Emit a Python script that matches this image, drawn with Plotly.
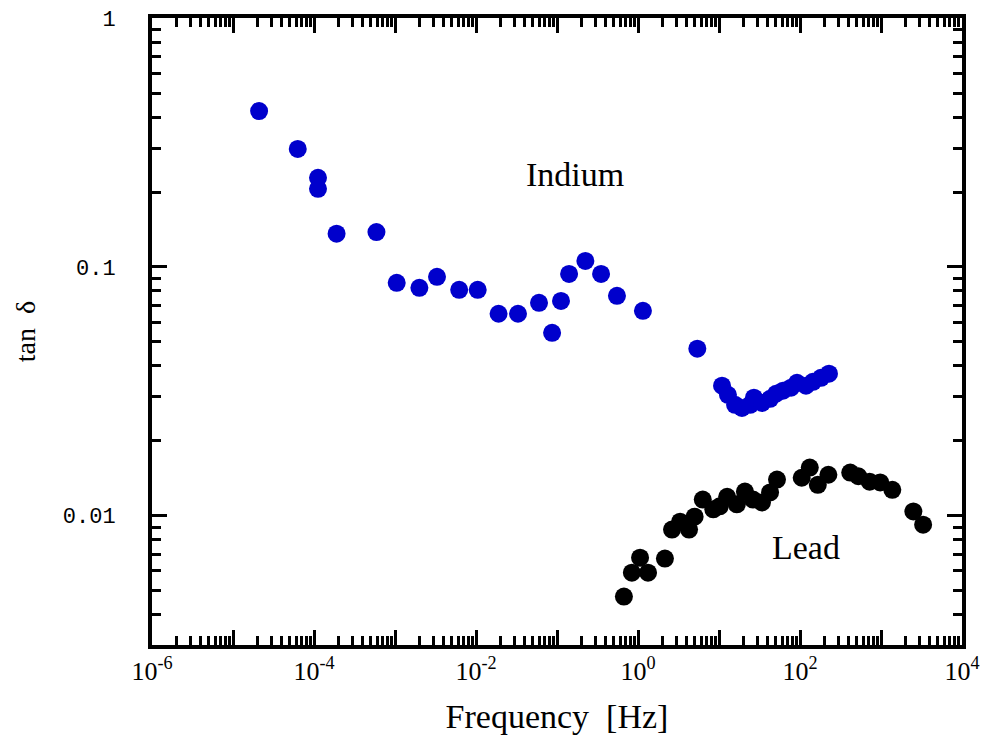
import plotly.graph_objects as go

# Indium data (frequency Hz, tan delta)
indium_freq = [2.1e-5, 6.3e-5, 1.12e-4, 1.12e-4, 1.9e-4, 5.9e-4, 1.05e-3, 2.0e-3, 3.3e-3,
               6.2e-3, 1.05e-2, 1.9e-2, 3.3e-2, 6.0e-2, 8.7e-2, 1.12e-1, 1.41e-1, 2.24e-1,
               3.5e-1, 5.5e-1, 1.15, 5.4,
               10.9, 12.9, 15.8, 19.2, 24.2, 27.0, 34.0, 42.7, 50.6, 61.7, 77.4, 91.8,
               118.6, 144.5, 181.6, 228.0]
indium_tan = [0.423, 0.298, 0.228, 0.206, 0.136, 0.138, 0.0863, 0.0824, 0.0912,
              0.0809, 0.0809, 0.0648, 0.0648, 0.0717, 0.0543, 0.073, 0.0937, 0.1057,
              0.0937, 0.0765, 0.0666, 0.0469,
              0.0333, 0.0306, 0.0279, 0.0271, 0.0279, 0.0298, 0.0284, 0.0295, 0.0309,
              0.0318, 0.0327, 0.0342, 0.0333, 0.0345, 0.0358, 0.0372]

# Lead data
lead_freq = [0.67, 0.84, 1.06, 1.33, 2.15, 2.63, 3.31, 4.27, 5.0, 6.3, 8.5, 10.2, 12.6,
             16.6, 20.9, 26.3, 33.9, 42.7, 52.0, 105, 132, 166, 224, 417, 525, 724, 977,
             1380, 2510, 3310]
lead_tan = [0.00473, 0.0059, 0.00678, 0.0059, 0.00672, 0.00879, 0.00946, 0.00879, 0.0099,
            0.0116, 0.0106, 0.0109, 0.0119, 0.0111, 0.0125, 0.0116, 0.0113, 0.0124, 0.01396,
            0.0142, 0.0156, 0.0133, 0.0146, 0.0149, 0.0144, 0.0137, 0.0136, 0.0127, 0.0104,
            0.0092]

x_major = [10.0 ** k for k in range(-6, 5)]
x_labels = ["10<sup>%d</sup>" % k if k % 2 == 0 else "" for k in range(-6, 5)]
y_major = [0.01, 0.1, 1]
y_labels = ["0.01", "0.1", "1"]

x_minor = [m * 10.0 ** k for k in range(-6, 4) for m in range(2, 10)]
y_minor = [m * 10.0 ** k for k in range(-3, 0) for m in range(2, 10)]

serif = "Liberation Serif"

fig = go.Figure()
fig.add_trace(go.Scatter(x=indium_freq, y=indium_tan, mode="markers", name="Indium",
                         marker=dict(color="#0000CC", size=18, line=dict(width=0))))
fig.add_trace(go.Scatter(x=lead_freq, y=lead_tan, mode="markers", name="Lead",
                         marker=dict(color="#000000", size=18, line=dict(width=0))))

fig.add_annotation(x=-0.78, y=-0.63, xref="x", yref="y", text="Indium", showarrow=False,
                   font=dict(family=serif, size=34, color="black"))
fig.add_annotation(x=2.07, y=-2.13, xref="x", yref="y", text="Lead", showarrow=False,
                   font=dict(family=serif, size=34, color="black"))

axis_common = dict(
    showline=True, linecolor="black", linewidth=4, mirror="ticks",
    ticks="inside", ticklen=15, tickwidth=3, tickcolor="black",
    showgrid=False, zeroline=False, automargin=False, ticklabeloverflow="allow",
)

fig.update_xaxes(type="log", range=[-6, 4], tickmode="array", tickvals=x_major,
                 ticktext=x_labels,
                 tickfont=dict(family=serif, size=26, color="black"),
                 title=dict(text="Frequency  [Hz]", font=dict(family=serif, size=34, color="black"),
                            standoff=20),
                 minor=dict(tickmode="array", tickvals=x_minor, ticks="inside", ticklen=9,
                            tickwidth=3, tickcolor="black", showgrid=False),
                 ticklabelstandoff=0,
                 **axis_common)
fig.update_yaxes(type="log", range=[-2.52, 0.0005], tickmode="array", tickvals=y_major,
                 ticktext=y_labels,
                 tickfont=dict(family="Liberation Mono", size=22, color="black"),
                 title=dict(text="tan  δ", font=dict(family=serif, size=28, color="black"),
                            standoff=20),
                 minor=dict(tickmode="array", tickvals=y_minor, ticks="inside", ticklen=9,
                            tickwidth=3, tickcolor="black", showgrid=False),
                 ticklabelstandoff=28,
                 **axis_common)

fig.update_layout(
    width=980, height=742,
    margin=dict(l=144, r=26, t=10, b=105),
    plot_bgcolor="white", paper_bgcolor="white",
    showlegend=False,
)

fig.write_html("out.html")
